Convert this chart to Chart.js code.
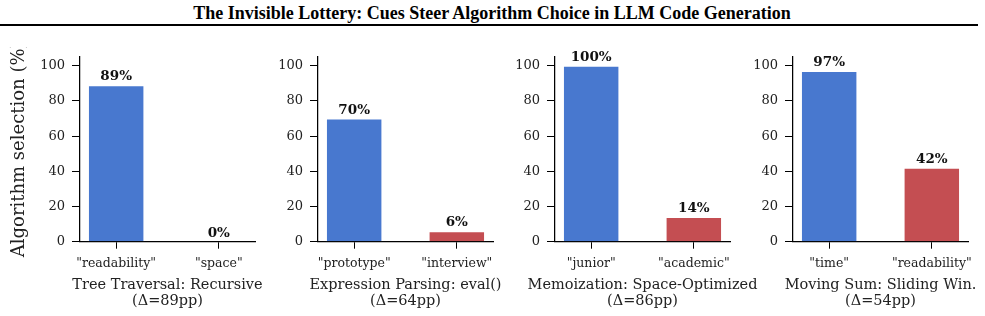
<!DOCTYPE html>
<html>
<head>
<meta charset="utf-8">
<script src="https://cdn.jsdelivr.net/npm/chart.js@4.4.1/dist/chart.umd.min.js"></script>
<style>
  html, body { margin: 0; padding: 0; background: #fff; overflow: hidden; }
  body { width: 985px; height: 316px; position: relative; }
  #title {
    position: absolute; top: 3px; left: 0; width: 984px; text-align: center;
    font: bold 18px "Liberation Serif", "Times New Roman", serif; line-height: 20px; color: #000;
  }
  #rule { position: absolute; top: 24px; left: 0; width: 978px; height: 2.4px; background: #000; }
  canvas { position: absolute; top: 47px; }
</style>
</head>
<body>
<div id="title">The Invisible Lottery: Cues Steer Algorithm Choice in LLM Code Generation</div>
<div id="rule"></div>
<canvas id="p0" width="300" height="269"></canvas>
<canvas id="p1" width="300" height="269"></canvas>
<canvas id="p2" width="300" height="269"></canvas>
<canvas id="p3" width="300" height="269"></canvas>
<script>
  // data
  const panelTitles = [
    ['Tree Traversal: Recursive', '(Δ=89pp)'],
    ['Expression Parsing: eval()', '(Δ=64pp)'],
    ['Memoization: Space-Optimized', '(Δ=86pp)'],
    ['Moving Sum: Sliding Win.', '(Δ=54pp)']
  ];
  const cueLabels = [
    ['"readability"', '"space"'],
    ['"prototype"', '"interview"'],
    ['"junior"', '"academic"'],
    ['"time"', '"readability"']
  ];
  const selectionValues = [
    [89, 0],
    [70, 6],
    [100, 14],
    [97, 42]
  ];
  const yTicks = [0, 20, 40, 60, 80, 100];
  const barColors = ['#4878cf', '#c44e52'];
  const yLabel = 'Algorithm selection (%)';

  // layout
  const axisLeft = [80, 317.5, 555, 793];
  const SERIF = '"DejaVu Serif", serif';

  const textPlugin = {
    id: 'panelText',
    afterDatasetsDraw(chart) {
      const i = chart.options.panelIndex;
      const ctx = chart.ctx;
      const area = chart.chartArea;
      const meta = chart.getDatasetMeta(0);
      ctx.save();
      ctx.fillStyle = '#111';
      ctx.textAlign = 'center';
      ctx.textBaseline = 'alphabetic';
      ctx.font = 'bold 13.5px ' + SERIF;
      meta.data.forEach((bar, j) => {
        ctx.fillText(Math.round(selectionValues[i][j]) + '%', bar.x, bar.y - 5);
      });
      ctx.fillStyle = '#222';
      ctx.textBaseline = 'middle';
      ctx.font = '14.5px ' + SERIF;
      const cx = (area.left + area.right) / 2;
      ctx.fillText(panelTitles[i][0], cx, area.bottom + 43.3);
      ctx.fillText(panelTitles[i][1], cx, area.bottom + 59.3);
      if (i === 0) {
        ctx.font = '18px ' + SERIF;
        ctx.translate(19.5, (area.top + area.bottom) / 2);
        ctx.rotate(-Math.PI / 2);
        ctx.fillText(yLabel, 0, 0);
      }
      ctx.restore();
    }
  };

  selectionValues.forEach((values, i) => {
    const canvas = document.getElementById('p' + i);
    canvas.style.left = (axisLeft[i] - 80) + 'px';
    new Chart(canvas, {
      type: 'bar',
      data: {
        datasets: [{
          data: values.map((v, j) => ({ x: j, y: v })),
          backgroundColor: barColors,
          borderColor: 'rgba(255,255,255,0.7)',
          borderWidth: 1,
          barPercentage: 0.55,
          categoryPercentage: 1
        }]
      },
      options: {
        panelIndex: i,
        responsive: false,
        animation: false,
        layout: { padding: { left: 0, top: 10, right: 45, bottom: 0 } },
        plugins: { legend: { display: false }, tooltip: { enabled: false } },
        scales: {
          x: {
            type: 'linear',
            offset: false,
            min: -0.3525,
            max: 1.3525,
            afterBuildTicks: s => { s.ticks = [{ value: 0 }, { value: 1 }]; },
            afterFit: s => { s.height = 74.3; },
            ticks: {
              callback: v => cueLabels[i][v],
              font: { family: SERIF, size: 12.5 },
              color: '#222',
              padding: 8,
              maxRotation: 0,
              autoSkip: false
            },
            grid: { offset: false, drawOnChartArea: false, tickLength: 7, color: '#000', lineWidth: 1 },
            border: { display: true, color: '#000', width: 1.25 }
          },
          y: {
            min: 0,
            max: 105,
            afterBuildTicks: s => { s.ticks = yTicks.map(v => ({ value: v })); },
            afterFit: s => { s.width = 80; s.paddingTop = 0; s.paddingBottom = 0; },
            ticks: {
              font: { family: SERIF, size: 13 },
              color: '#222',
              padding: 7
            },
            grid: { drawOnChartArea: false, tickLength: 8, color: '#000', lineWidth: 1 },
            border: { display: true, color: '#000', width: 1.25 }
          }
        }
      },
      plugins: [textPlugin]
    });
  });
</script>
</body>
</html>
